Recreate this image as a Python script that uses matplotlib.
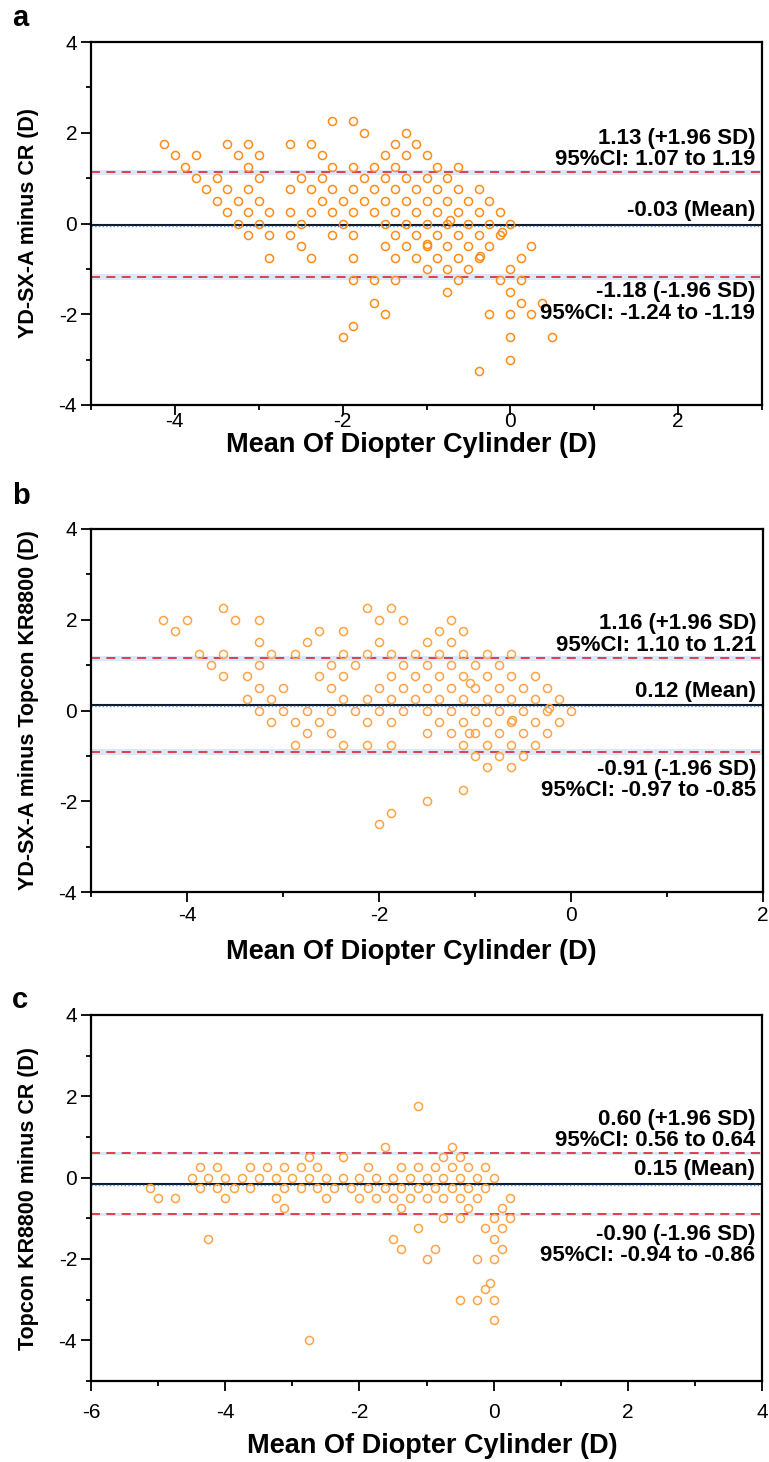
import matplotlib
matplotlib.use('Agg')
import matplotlib.pyplot as plt
from matplotlib.ticker import MultipleLocator

plt.rcParams['font.family'] = ['Liberation Sans', 'DejaVu Sans']
plt.rcParams['axes.unicode_minus'] = False

# ---- panel a: YD-SX-A minus CR  (rows: difference -> list of means) ----
a_rows = [
    (2.25, [-2.125, -1.875]),
    (2.0, [-1.75, -1.25]),
    (1.75, [-4.125, -3.375, -3.125, -2.625, -2.375, -1.375, -1.125]),
    (1.5, [-4.0, -3.75, -3.25, -3.0, -2.25, -1.5, -1.25, -1.0]),
    (1.25, [-3.875, -3.125, -2.125, -1.875, -1.625, -1.375, -0.875, -0.625]),
    (1.0, [-3.75, -3.5, -3.0, -2.5, -2.25, -1.75, -1.5, -1.25, -1.0, -0.75]),
    (0.75, [-3.625, -3.375, -3.125, -2.625, -2.375, -2.125, -1.875, -1.625, -1.375,
            -1.125, -0.875, -0.625, -0.375]),
    (0.5, [-3.5, -3.25, -3.0, -2.25, -2.0, -1.75, -1.5, -1.25, -1.0, -0.75, -0.5, -0.25]),
    (0.25, [-3.375, -3.125, -2.875, -2.625, -2.375, -2.125, -1.875, -1.625, -1.375,
            -1.125, -0.875, -0.625, -0.375, -0.125]),
    (0.0, [-3.25, -3.0, -2.5, -2.0, -1.5, -1.25, -1.0, -0.75, -0.5, -0.25, 0.0]),
    (-0.25, [-3.125, -2.875, -2.625, -2.125, -1.875, -1.375, -1.125, -0.875, -0.625,
             -0.375, -0.125]),
    (-0.5, [-2.5, -1.5, -1.25, -1.0, -0.75, -0.5, -0.25, 0.25]),
    (-0.75, [-2.875, -2.375, -1.875, -1.375, -1.125, -0.875, -0.625, -0.375, 0.125]),
    (-1.0, [-1.0, -0.75, -0.5, 0.0]),
    (-1.25, [-1.875, -1.625, -1.375, -0.625, -0.125, 0.125]),
    (-1.5, [-0.75, 0.0]),
    (-1.75, [-1.625, 0.125, 0.375]),
    (-2.0, [-1.5, -0.25, 0.0, 0.25]),
    (-2.25, [-1.875]),
    (-2.5, [-2.0, 0.0, 0.5]),
    (-3.0, [0.0]),
    (-3.25, [-0.375]),
]
a_extra_x = [-0.72, -0.10, -0.99, -0.36]
a_extra_y = [0.08, -0.18, -0.45, -0.72]

# ---- panel b: YD-SX-A minus Topcon KR8800 ----
b_rows = [
    (2.25, [-3.625, -2.125, -1.875]),
    (2.0, [-4.25, -4.0, -3.5, -3.25, -2.0, -1.75, -1.25]),
    (1.75, [-4.125, -2.625, -2.375, -1.375, -1.125]),
    (1.5, [-3.25, -2.75, -2.0, -1.5, -1.25]),
    (1.25, [-3.875, -3.625, -3.125, -2.875, -2.375, -2.125, -1.875, -1.625, -1.375,
            -1.125, -0.875, -0.625]),
    (1.0, [-3.75, -3.25, -2.5, -2.25, -1.75, -1.5, -1.25, -1.0, -0.75]),
    (0.75, [-3.625, -3.375, -2.625, -2.375, -1.875, -1.625, -1.375, -1.125, -0.875,
            -0.625, -0.375]),
    (0.5, [-3.25, -3.0, -2.5, -2.0, -1.75, -1.5, -1.25, -1.0, -0.75, -0.5, -0.25]),
    (0.25, [-3.375, -3.125, -2.375, -2.125, -1.875, -1.625, -1.375, -1.125, -0.875,
            -0.625, -0.375, -0.125]),
    (0.0, [-3.25, -3.0, -2.75, -2.5, -2.25, -2.0, -1.75, -1.5, -1.25, -1.0, -0.75,
           -0.5, -0.25, 0.0]),
    (-0.25, [-3.125, -2.875, -2.625, -2.125, -1.875, -1.375, -1.125, -0.875, -0.625,
             -0.375, -0.125]),
    (-0.5, [-2.75, -2.5, -1.5, -1.25, -1.0, -0.75, -0.5, -0.25]),
    (-0.75, [-2.875, -2.375, -2.125, -1.875, -1.125, -0.875, -0.625, -0.375]),
    (-1.0, [-1.0, -0.75, -0.5]),
    (-1.25, [-0.875, -0.625]),
    (-1.75, [-1.125]),
    (-2.0, [-1.5]),
    (-2.25, [-1.875]),
    (-2.5, [-2.0]),
]
b_extra_x = [-1.05, -0.23, -0.61, -1.06]
b_extra_y = [0.60, 0.05, -0.21, -0.49]

# ---- panel c: Topcon KR8800 minus CR ----
c_rows = [
    (1.75, [-1.125]),
    (0.75, [-1.625, -0.625]),
    (0.5, [-2.75, -2.25, -0.75, -0.5]),
    (0.25, [-4.375, -4.125, -3.625, -3.375, -3.125, -2.875, -2.625, -1.875, -1.375,
            -1.125, -0.875, -0.625, -0.375, -0.125]),
    (0.0, [-4.5, -4.25, -4.0, -3.75, -3.5, -3.25, -3.0, -2.75, -2.5, -2.25, -2.0, -1.75,
           -1.5, -1.25, -1.0, -0.75, -0.5, -0.25, 0.0]),
    (-0.25, [-5.125, -4.375, -4.125, -3.875, -3.625, -3.125, -2.875, -2.625, -2.375,
             -2.125, -1.875, -1.625, -1.375, -1.125, -0.875, -0.625, -0.375, -0.125]),
    (-0.5, [-5.0, -4.75, -4.0, -3.25, -2.5, -2.0, -1.75, -1.5, -1.25, -1.0, -0.75, -0.5,
            -0.25, 0.25]),
    (-0.75, [-3.125, -1.375, -0.375, 0.125]),
    (-1.0, [-0.75, -0.5, 0.0, 0.25]),
    (-1.25, [-1.125, -0.125, 0.125]),
    (-1.5, [-4.25, -1.5, 0.0]),
    (-1.75, [-1.375, -0.875, 0.125]),
    (-2.0, [-1.0, -0.25, 0.0]),
    (-2.75, [-0.125]),
    (-3.0, [-0.5, -0.25, 0.0]),
    (-3.5, [0.0]),
    (-4.0, [-2.75]),
]
c_extra_x = [-0.05]
c_extra_y = [-2.6]

# agreement stats: mean, upper LoA, lower LoA, CI bands
a_stats = dict(mean=-0.03, up=1.13, lo=-1.18, up_ci=(1.07, 1.19), lo_ci=(-1.24, -1.12))
b_stats = dict(mean=0.12, up=1.16, lo=-0.91, up_ci=(1.10, 1.21), lo_ci=(-0.97, -0.85))
c_stats = dict(mean=-0.15, up=0.60, lo=-0.90, up_ci=(0.56, 0.64), lo_ci=(-0.94, -0.86))

a_text = ['1.13 (+1.96 SD)\n95%CI: 1.07 to 1.19', '-0.03 (Mean)',
          '-1.18 (-1.96 SD)\n95%CI: -1.24 to -1.19']
b_text = ['1.16 (+1.96 SD)\n95%CI: 1.10 to 1.21', '0.12 (Mean)',
          '-0.91 (-1.96 SD)\n95%CI: -0.97 to -0.85']
c_text = ['0.60 (+1.96 SD)\n95%CI: 0.56 to 0.64', '0.15 (Mean)',
          '-0.90 (-1.96 SD)\n95%CI: -0.94 to -0.86']


def expand(rows, ex_x, ex_y):
    xs, ys = [], []
    for y, row in rows:
        xs += row
        ys += [y] * len(row)
    return xs + ex_x, ys + ex_y


def panel(ax, rows, ex_x, ex_y, st, texts, xlim, ylim, ylabel, color, lo_gap,
          xpad, xlab_pos):
    band = '#dce8f8'
    ax.axhspan(*st['up_ci'], color=band, lw=0, zorder=1)
    ax.axhspan(*st['lo_ci'], color=band, lw=0, zorder=1)
    ax.axhspan(st['mean'] - 0.03, st['mean'] + 0.03, color=band, lw=0, zorder=1)
    ax.axhline(st['up'], color='#dd3340', lw=1.3, dashes=(5, 3.5), zorder=2)
    ax.axhline(st['lo'], color='#dd3340', lw=1.3, dashes=(5, 3.5), zorder=2)
    ax.axhline(st['mean'], color='#111a28', lw=1.5, zorder=2)
    ax.axhline(st['mean'] - 0.03, color='#4f8fe0', lw=1.0, ls=':', zorder=2)

    xs, ys = expand(rows, ex_x, ex_y)
    ax.plot(xs, ys, 'o', mfc='none', mec=color, ms=5.8, mew=1.1, zorder=3)

    kw = dict(xycoords=('axes fraction', 'data'), textcoords='offset points',
              ha='right', multialignment='right', fontsize=16, weight='bold',
              linespacing=1.02)
    ax.annotate(texts[0], xy=(1, st['up']), xytext=(-5, 1.5), va='bottom', **kw)
    ax.annotate(texts[1], xy=(1, st['mean']), xytext=(-5, 2.5), va='bottom', **kw)
    ax.annotate(texts[2], xy=(1, st['lo']), xytext=(-5, -lo_gap), va='top', **kw)

    ax.set_xlim(*xlim)
    ax.set_ylim(*ylim)
    ax.xaxis.set_major_locator(MultipleLocator(2))
    ax.xaxis.set_minor_locator(MultipleLocator(1))
    ax.yaxis.set_major_locator(MultipleLocator(2))
    ax.yaxis.set_minor_locator(MultipleLocator(1))
    ax.tick_params(which='major', direction='out', length=7, width=1.3,
                   labelsize=15, pad=3)
    ax.tick_params(axis='x', which='major', pad=xpad)
    ax.tick_params(which='minor', direction='out', length=3.5, width=1.3)
    for s in ax.spines.values():
        s.set_linewidth(1.6)
    ax.set_xlabel('Mean Of Diopter Cylinder (D)', fontsize=19.5, weight='bold',
                  va='center')
    ax.xaxis.set_label_coords(*xlab_pos)
    ax.set_ylabel(ylabel, fontsize=15.5, weight='bold')
    ax.yaxis.set_label_coords(-0.078, 0.5)


fig = plt.figure(figsize=(7.69, 14.62), dpi=100)
H = 1462.0
W = 769.0

ax_a = fig.add_axes([91 / W, 1 - 405 / H, 671 / W, 363 / H])
ax_b = fig.add_axes([91 / W, 1 - 892 / H, 672 / W, 363 / H])
ax_c = fig.add_axes([91 / W, 1 - 1381 / H, 671 / W, 366 / H])

panel(ax_a, a_rows, a_extra_x, a_extra_y, a_stats, a_text, (-5, 3), (-4, 4),
      'YD-SX-A minus CR (D)', '#ff8c1a', 3, -2, (0.477, -(445 - 405) / 363))
panel(ax_b, b_rows, b_extra_x, b_extra_y, b_stats, b_text, (-5, 2), (-4, 4),
      'YD-SX-A minus Topcon KR8800 (D)', '#ffa347', 5, 3, (0.477, -(952 - 892) / 363))
panel(ax_c, c_rows, c_extra_x, c_extra_y, c_stats, c_text, (-6, 4), (-5, 4),
      'Topcon KR8800 minus CR (D)', '#ffa347', 7, 9, (0.508, -(1446 - 1381) / 366))

for letter, y in [('a', 18), ('b', 496), ('c', 1000)]:
    fig.text(12 / W, 1 - y / H, letter, fontsize=21, weight='bold', va='center')

fig.savefig('out.png', dpi=100)
